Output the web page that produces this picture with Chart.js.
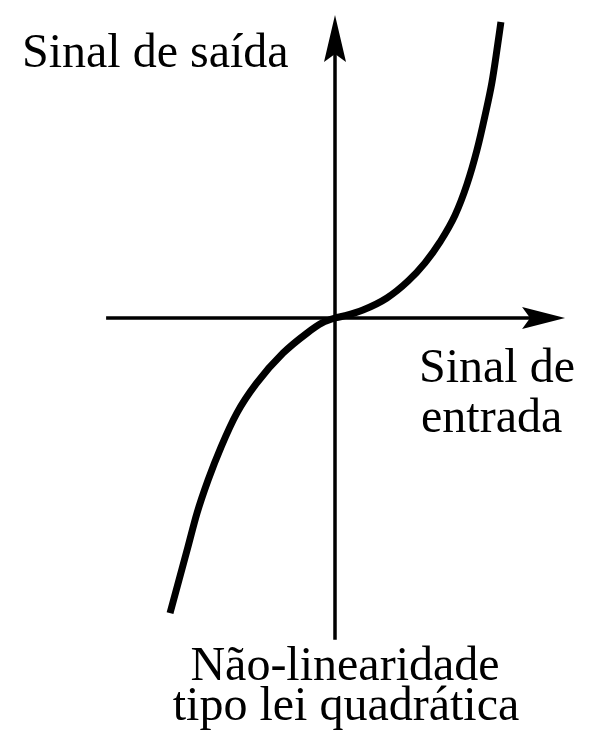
<!DOCTYPE html>
<html>
<head>
<meta charset="utf-8">
<script src="https://cdn.jsdelivr.net/npm/chart.js@4/dist/chart.umd.min.js"></script>
<style>
  html, body { margin: 0; padding: 0; background: #fff; }
  #curve-canvas { display: block; }
</style>
</head>
<body>
<canvas id="curve-canvas" width="590" height="744"></canvas>
<script>
// input signal (x) and output signal (y)
const inputSignal = [-0.702, -0.664, -0.626, -0.587, -0.540, -0.485, -0.417, -0.336, -0.221, -0.119, -0.055, 0,
  0.034, 0.119, 0.221, 0.311, 0.383, 0.447, 0.511, 0.562, 0.604, 0.638, 0.668, 0.689, 0.706];
const outputSignal = [-0.958, -0.851, -0.744, -0.633, -0.526, -0.419, -0.308, -0.214, -0.114, -0.049, -0.016, 0,
  0.006, 0.026, 0.065, 0.120, 0.179, 0.247, 0.334, 0.435, 0.545, 0.656, 0.766, 0.870, 0.961];

const xAxisLabel = ['Sinal de', 'entrada'];
const yAxisLabel = 'Sinal de saída';
const captionLines = ['Não-linearidade', 'tipo lei quadrática'];

const ink = '#000';
const serif = '"Liberation Serif", "DejaVu Serif", serif';

// draws the two axes with arrow heads through the origin
const axesPlugin = {
  id: 'axes',
  beforeDatasetsDraw(chart) {
    const { ctx, scales: { x, y } } = chart;
    const x0 = x.getPixelForValue(0);
    const y0 = y.getPixelForValue(0);
    const left = x.getPixelForValue(-0.974);
    const right = x.getPixelForValue(0.979);
    const top = y.getPixelForValue(0.984);
    const bottom = y.getPixelForValue(-1.045);

    ctx.save();
    ctx.strokeStyle = ink;
    ctx.fillStyle = ink;
    ctx.lineWidth = 3.5;

    ctx.beginPath();
    ctx.moveTo(left, y0);
    ctx.lineTo(right - 30, y0);
    ctx.moveTo(x0, bottom);
    ctx.lineTo(x0, top + 30);
    ctx.stroke();

    // arrow heads (barbed)
    ctx.beginPath();
    ctx.moveTo(right, y0);
    ctx.lineTo(right - 43, y0 - 11);
    ctx.lineTo(right - 35, y0);
    ctx.lineTo(right - 43, y0 + 11);
    ctx.closePath();
    ctx.fill();

    ctx.beginPath();
    ctx.moveTo(x0, top);
    ctx.lineTo(x0 - 11, top + 47);
    ctx.lineTo(x0, top + 39);
    ctx.lineTo(x0 + 11, top + 47);
    ctx.closePath();
    ctx.fill();
    ctx.restore();
  }
};

const labelsPlugin = {
  id: 'labels',
  afterDraw(chart) {
    const { ctx } = chart;
    ctx.save();
    ctx.fillStyle = ink;
    ctx.font = '48px ' + serif;
    ctx.textBaseline = 'alphabetic';

    ctx.textAlign = 'left';
    ctx.fillText(yAxisLabel, 22, 67);
    ctx.fillText(xAxisLabel[0], 419, 382);
    ctx.fillText(xAxisLabel[1], 421, 432);

    ctx.textAlign = 'center';
    ctx.fillText(captionLines[0], 345, 680);
    ctx.fillText(captionLines[1], 346, 720);
    ctx.restore();
  }
};

new Chart(document.getElementById('curve-canvas'), {
  type: 'scatter',
  data: {
    datasets: [{
      data: inputSignal.map((v, i) => ({ x: v, y: outputSignal[i] })),
      showLine: true,
      borderColor: ink,
      borderWidth: 7,
      borderCapStyle: 'butt',
      pointRadius: 0,
      cubicInterpolationMode: 'monotone'
    }]
  },
  options: {
    responsive: false,
    animation: false,
    layout: {
      padding: { left: 100, right: 20, top: 10, bottom: 99 }
    },
    scales: {
      x: { type: 'linear', min: -1, max: 1, display: false },
      y: { type: 'linear', min: -1.0617, max: 1, display: false }
    },
    plugins: {
      legend: { display: false },
      tooltip: { enabled: false }
    }
  },
  plugins: [axesPlugin, labelsPlugin]
});
</script>
</body>
</html>
